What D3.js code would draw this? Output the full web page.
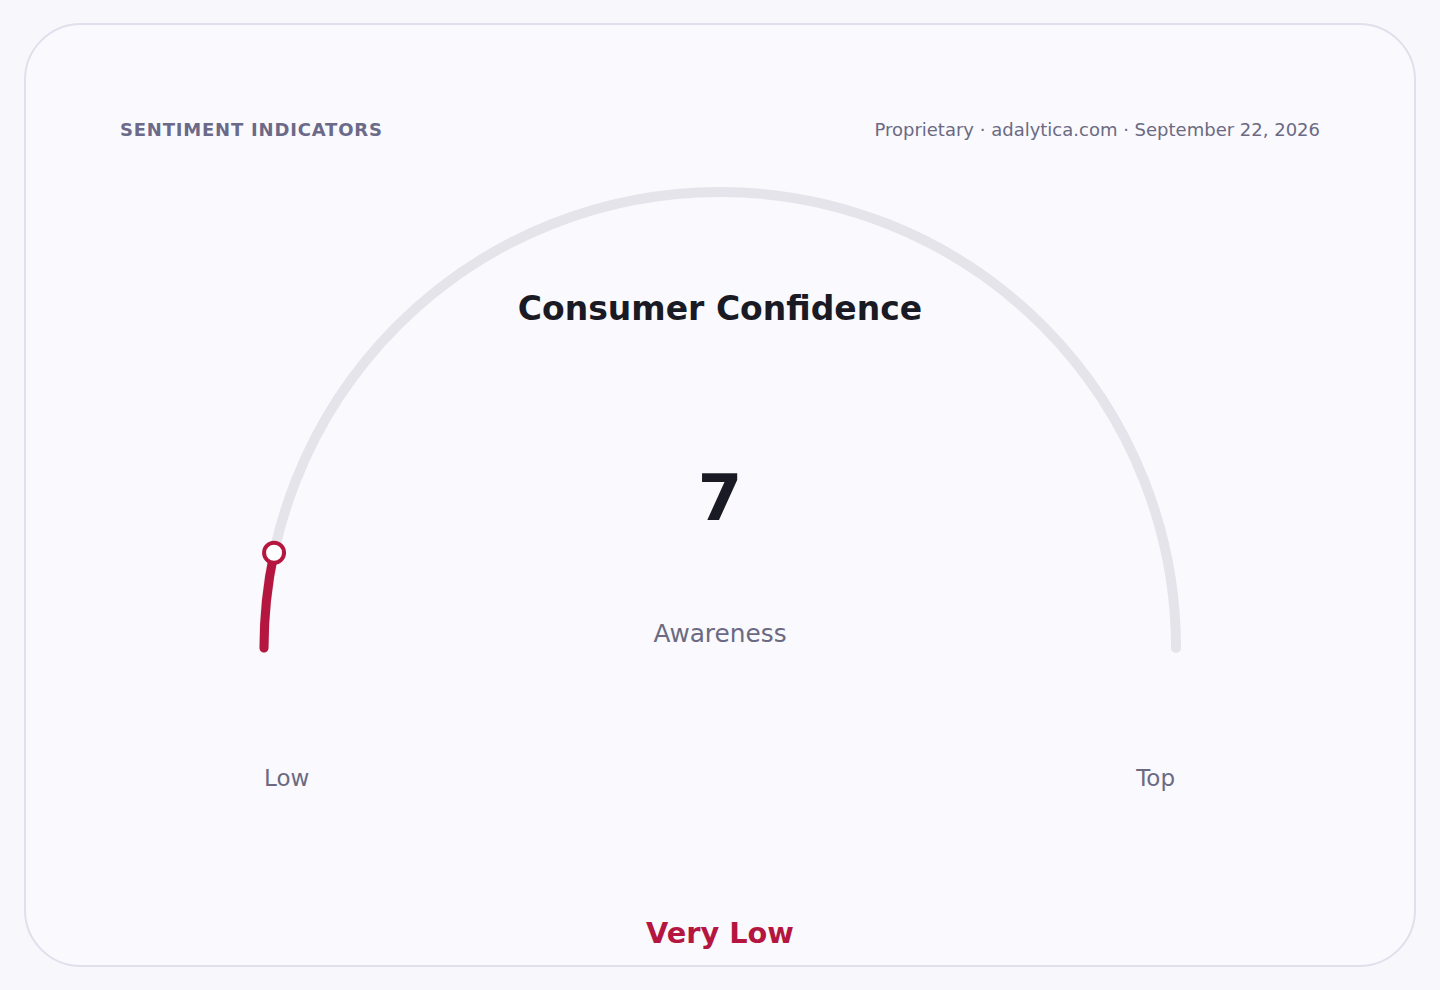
<!DOCTYPE html>
<html>
<head>
<meta charset="utf-8">
<script src="https://cdn.jsdelivr.net/npm/d3@7"></script>
<style>
  html, body { margin: 0; padding: 0; background: #f8f8fc; }
  svg { display: block; font-family: "DejaVu Sans", sans-serif; }
</style>
</head>
<body>
<div id="chart"></div>
<script>
// Gauge data
const gaugeTitle = 'Consumer Confidence';
const gaugeValue = [6.7];
const gaugeDomain = [0, 100];
const gaugeEndLabels = ['Low', 'Top'];
const gaugeSubLabel = 'Awareness';
const gaugeStatus = 'Very Low';

const W = 1440, H = 990;
const cx = 720, cy = 648, R = 456;

const svg = d3.select('#chart').append('svg')
  .attr('width', W)
  .attr('height', H);

// card
svg.append('rect')
  .attr('x', 25).attr('y', 24)
  .attr('width', 1390).attr('height', 942)
  .attr('rx', 56).attr('ry', 56)
  .attr('fill', '#f9f9fe')
  .attr('stroke', '#e0dfec')
  .attr('stroke-width', 2);

// header
svg.append('text')
  .attr('x', 120).attr('y', 136)
  .attr('fill', '#6b6a88')
  .attr('font-size', 18)
  .attr('font-weight', 'bold')
  .attr('letter-spacing', 0.8)
  .text('SENTIMENT INDICATORS');

svg.append('text')
  .attr('x', 1320).attr('y', 136)
  .attr('text-anchor', 'end')
  .attr('fill', '#6b6a82')
  .attr('font-size', 18)
  .text('Proprietary · adalytica.com · September 22, 2026');

// angle scale
const angle = d3.scaleLinear()
  .domain(gaugeDomain)
  .range([-Math.PI / 2, Math.PI / 2]);

const g = svg.append('g').attr('transform', `translate(${cx},${cy})`);

const arcLine = (a0, a1) => {
  const p = d3.path();
  p.arc(0, 0, R, a0 - Math.PI / 2, a1 - Math.PI / 2, false);
  return p.toString();
};

// track
g.append('path')
  .attr('d', arcLine(angle(gaugeDomain[0]), angle(gaugeDomain[1])))
  .attr('fill', 'none')
  .attr('stroke', '#e5e4ea')
  .attr('stroke-width', 10)
  .attr('stroke-linecap', 'round');

// value arc
g.selectAll('path.value')
  .data(gaugeValue)
  .enter().append('path')
  .attr('class', 'value')
  .attr('d', d => arcLine(angle(gaugeDomain[0]), angle(d)))
  .attr('fill', 'none')
  .attr('stroke', '#b5163f')
  .attr('stroke-width', 9)
  .attr('stroke-linecap', 'round');

// knob
g.selectAll('circle.knob')
  .data(gaugeValue)
  .enter().append('circle')
  .attr('class', 'knob')
  .attr('cx', d => R * Math.sin(angle(d)))
  .attr('cy', d => -R * Math.cos(angle(d)))
  .attr('r', 10)
  .attr('fill', '#ffffff')
  .attr('stroke', '#b5163f')
  .attr('stroke-width', 4);

// center texts
svg.append('text')
  .attr('x', cx).attr('y', 320)
  .attr('text-anchor', 'middle')
  .attr('fill', '#1a1a24')
  .attr('font-size', 33)
  .attr('font-weight', 'bold')
  .text(gaugeTitle);

svg.append('text')
  .attr('x', cx).attr('y', 520)
  .attr('text-anchor', 'middle')
  .attr('fill', '#1a1a24')
  .attr('font-size', 64)
  .attr('font-weight', 'bold')
  .text(d3.format('.0f')(gaugeValue[0]));

svg.append('text')
  .attr('x', cx).attr('y', 642)
  .attr('text-anchor', 'middle')
  .attr('fill', '#6b6a82')
  .attr('font-size', 24.8)
  .text(gaugeSubLabel);

// end labels
svg.append('text')
  .attr('x', cx - R).attr('y', 786)
  .attr('text-anchor', 'start')
  .attr('fill', '#6b6a82')
  .attr('font-size', 23)
  .text(gaugeEndLabels[0]);

svg.append('text')
  .attr('x', cx + R - 1).attr('y', 786)
  .attr('text-anchor', 'end')
  .attr('fill', '#6b6a82')
  .attr('font-size', 23)
  .text(gaugeEndLabels[1]);

// status
svg.append('text')
  .attr('x', cx).attr('y', 943)
  .attr('text-anchor', 'middle')
  .attr('fill', '#b5163f')
  .attr('font-size', 28.8)
  .attr('font-weight', 'bold')
  .text(gaugeStatus);
</script>
</body>
</html>
